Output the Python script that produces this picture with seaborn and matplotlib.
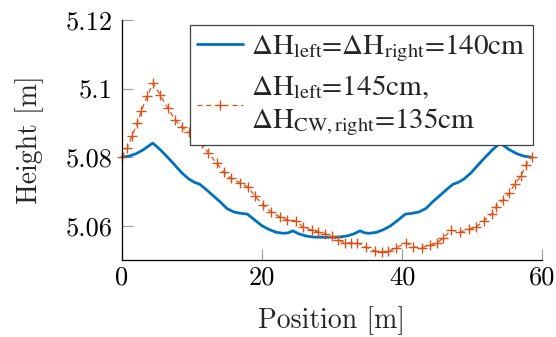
import numpy as np
import pandas as pd
import matplotlib
matplotlib.use("Agg")
import matplotlib.pyplot as plt
import seaborn as sns
from matplotlib.font_manager import FontProperties
from matplotlib.ticker import FixedLocator, FixedFormatter

# ---- data ----
blue_x = [0.0, 1.0, 2.0, 3.0, 4.4, 5.5, 6.5, 7.5, 8.5, 9.5, 10.3, 11.1,
          12.0, 13.0, 14.0, 15.0, 16.0, 17.0, 17.9, 19.0, 20.0, 21.0, 22.0,
          23.0, 23.7, 24.4, 25.3, 26.3, 27.3, 29.2, 31.1, 32.1, 33.1, 34.0,
          34.7, 35.4, 36.4, 37.4, 38.4, 39.4, 40.5, 41.4, 42.4, 43.4, 44.4,
          45.4, 46.4, 47.3, 48.1, 48.9, 49.9, 50.9, 51.9, 52.9, 54.0, 55.4,
          56.4, 57.4, 58.4]
blue_y = [5.0800, 5.0803, 5.0810, 5.0821, 5.0841, 5.0821, 5.0800, 5.0778,
          5.0755, 5.0737, 5.0727, 5.0721, 5.0706, 5.0688, 5.0670, 5.0650,
          5.0640, 5.0636, 5.0634, 5.0616, 5.0600, 5.0589, 5.0581, 5.0578,
          5.0579, 5.0585, 5.0576, 5.0570, 5.0567, 5.0566, 5.0567, 5.0570,
          5.0576, 5.0585, 5.0579, 5.0578, 5.0581, 5.0589, 5.0600, 5.0616,
          5.0634, 5.0636, 5.0640, 5.0650, 5.0670, 5.0688, 5.0706, 5.0721,
          5.0727, 5.0737, 5.0755, 5.0778, 5.0800, 5.0821, 5.0841, 5.0821,
          5.0810, 5.0803, 5.0800]

orange_x = [0.0, 0.76, 1.43, 2.19, 2.76, 3.62, 4.43, 5.48, 6.57, 7.6, 8.5,
            9.5, 10.5, 11.4, 12.3, 13.5, 14.5, 15.6, 16.9, 18.0, 19.0, 20.2,
            21.3, 22.5, 23.5, 24.9, 25.9, 27.1, 28.0, 29.0, 30.0, 30.9, 31.9,
            32.7, 33.6, 34.9, 36.1, 37.1, 38.0, 39.2, 40.6, 41.6, 42.8, 44.0,
            45.0, 45.9, 47.0, 48.3, 49.5, 50.6, 51.7, 52.8, 53.4, 54.4, 55.3,
            56.1, 57.0, 57.7, 58.5]
orange_y = [5.0800, 5.0828, 5.0862, 5.0900, 5.0935, 5.0979, 5.1015, 5.0981,
            5.0942, 5.0908, 5.0889, 5.0872, 5.0856, 5.0840, 5.0813, 5.0783,
            5.0757, 5.0738, 5.0725, 5.0713, 5.0686, 5.0660, 5.0640, 5.0626,
            5.0618, 5.0614, 5.0596, 5.0587, 5.0582, 5.0577, 5.0569, 5.0558,
            5.0550, 5.0550, 5.0550, 5.0537, 5.0527, 5.0524, 5.0525, 5.0536,
            5.0550, 5.0538, 5.0536, 5.0543, 5.0550, 5.0564, 5.0587, 5.0582,
            5.0589, 5.0597, 5.0614, 5.0634, 5.0655, 5.0674, 5.0694, 5.0721,
            5.0745, 5.0777, 5.0801]

label_blue = r"$\Delta$H$_{\mathrm{left}}$=$\Delta$H$_{\mathrm{right}}$=140cm"
label_orange = ("$\\Delta$H$_{\\mathrm{left}}$=145cm,\n"
                "$\\Delta$H$_{\\mathrm{CW,right}}$=135cm")

x_ticks = [0, 20, 40, 60]
x_ticklabels = ["0", "20", "40", "60"]
y_ticks = [5.06, 5.08, 5.10, 5.12]
y_ticklabels = ["5.06", "5.08", "5.1", "5.12"]

# ---- style ----
sns.set_style("ticks")
plt.rcParams["font.family"] = ["cmr10"]
plt.rcParams["mathtext.fontset"] = "cm"
plt.rcParams["axes.formatter.use_mathtext"] = True
plt.rcParams["axes.unicode_minus"] = False

BLUE = "#0072BD"
ORANGE = "#D95319"

fig = plt.figure(figsize=(5.56, 3.37), dpi=100)
ax = fig.add_axes([122 / 556, 77 / 337, 420 / 556, 240 / 337])

df_b = pd.DataFrame({"x": blue_x, "y": blue_y})
df_o = pd.DataFrame({"x": orange_x, "y": orange_y})

sns.lineplot(data=df_b, x="x", y="y", ax=ax, color=BLUE, lw=2.0,
             sort=False, label=label_blue, clip_on=False)
sns.lineplot(data=df_o, x="x", y="y", ax=ax, color=ORANGE, lw=0.9,
             linestyle=(0, (4, 3)), marker="+", markersize=7,
             markeredgewidth=1.0, markeredgecolor=ORANGE,
             sort=False, label=label_orange, clip_on=False)

ax.set_xlim(0, 60)
ax.set_ylim(5.05, 5.12)
ax.xaxis.set_major_locator(FixedLocator(x_ticks))
ax.xaxis.set_major_formatter(FixedFormatter(x_ticklabels))
ax.yaxis.set_major_locator(FixedLocator(y_ticks))
ax.yaxis.set_major_formatter(FixedFormatter(y_ticklabels))

for s in ["top", "right"]:
    ax.spines[s].set_visible(False)
for s in ["left", "bottom"]:
    ax.spines[s].set_color("black")
    ax.spines[s].set_linewidth(0.9)

ax.tick_params(axis="both", direction="in", length=8, width=0.8,
               color="#9a9a9a", labelsize=19, labelcolor="black")
ax.tick_params(axis="x", pad=4)
ax.tick_params(axis="y", pad=7)

ax.set_xlabel("Position [m]", fontsize=20, labelpad=12)
ax.set_ylabel("Height [m]", fontsize=20, labelpad=15)

leg_font = FontProperties(family="STIXGeneral", size=21, math_fontfamily="stix")
leg = ax.legend(loc="upper right", bbox_to_anchor=(0.979, 0.979),
                borderaxespad=0, prop=leg_font, frameon=True, fancybox=False,
                handlelength=1.55, handletextpad=0.3, borderpad=0.25,
                labelspacing=0.33)
leg.get_frame().set_edgecolor("#404040")
leg.get_frame().set_linewidth(0.9)
leg.get_frame().set_alpha(1.0)
for t in leg.get_texts():
    t.set_linespacing(1.22)
leg.set_zorder(5)

fig.savefig("out.png", dpi=100)
